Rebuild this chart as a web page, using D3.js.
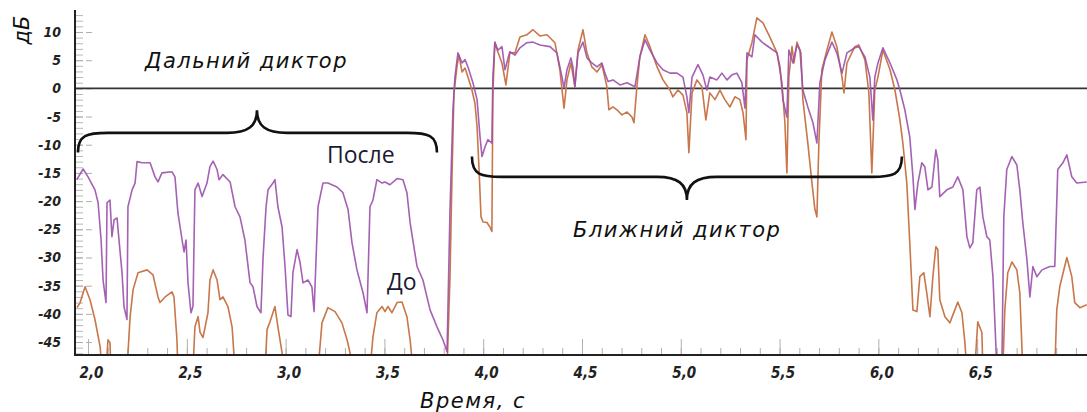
<!DOCTYPE html>
<html lang="ru">
<head>
<meta charset="UTF-8">
<title>Дальний и ближний диктор</title>
<script src="https://cdn.jsdelivr.net/npm/d3@7/dist/d3.min.js"></script>
<style>
  body { margin: 0; background: #fff; }
  svg { display: block; }
</style>
</head>
<body>
<script>
// canvas
var w = 1087;
var h = 412;

// y ticks (dB) and x ticks (seconds)
var yMajor = [-45, -40, -35, -30, -25, -20, -15, -10, -5, 0, 5, 10];
var xMajor = [2.0, 2.5, 3.0, 3.5, 4.0, 4.5, 5.0, 5.5, 6.0, 6.5];

// "После" (after processing) - [time s, level dB]
var afterPts = [
  [1.943,-16.2],[1.975,-14.3],[2.000,-15.7],[2.035,-18.0],[2.051,-20.3],[2.066,-26.9],[2.076,-34.0],[2.091,-38.0],
  [2.096,-20.3],[2.111,-19.8],[2.121,-26.3],[2.132,-23.3],[2.147,-23.0],[2.152,-25.1],[2.172,-32.7],[2.182,-38.7],
  [2.197,-41.0],[2.202,-21.0],[2.223,-18.0],[2.238,-16.8],[2.248,-13.0],[2.273,-13.2],[2.314,-13.2],[2.339,-15.7],
  [2.354,-16.6],[2.374,-15.0],[2.425,-14.8],[2.440,-15.7],[2.455,-22.1],[2.476,-26.9],[2.486,-29.0],[2.496,-26.9],
  [2.506,-34.5],[2.521,-39.8],[2.531,-38.7],[2.541,-18.0],[2.557,-16.8],[2.577,-19.2],[2.602,-16.8],[2.617,-13.9],
  [2.633,-12.9],[2.653,-14.4],[2.663,-16.2],[2.683,-15.3],[2.719,-16.6],[2.744,-21.0],[2.769,-22.8],[2.794,-26.9],
  [2.820,-34.5],[2.835,-35.2],[2.855,-38.7],[2.875,-39.8],[2.886,-29.9],[2.901,-21.0],[2.911,-18.0],[2.936,-16.8],
  [2.946,-16.2],[2.961,-21.0],[2.982,-24.6],[2.997,-31.6],[3.012,-40.2],[3.027,-40.5],[3.037,-32.7],[3.058,-28.6],
  [3.073,-30.9],[3.088,-34.5],[3.113,-34.0],[3.133,-35.2],[3.144,-39.6],[3.164,-21.0],[3.189,-16.8],[3.214,-16.8],
  [3.260,-17.5],[3.290,-18.5],[3.316,-21.5],[3.336,-27.4],[3.361,-32.2],[3.392,-36.3],[3.412,-39.8],[3.427,-21.0],
  [3.442,-19.8],[3.462,-16.2],[3.488,-16.8],[3.503,-16.6],[3.528,-17.1],[3.564,-16.0],[3.594,-16.2],[3.614,-18.5],
  [3.630,-23.8],[3.665,-31.6],[3.695,-34.0],[3.731,-39.3],[3.766,-42.3],[3.796,-44.6],[3.817,-46.7],[3.832,-21.5],
  [3.847,-3.8],[3.857,2.0],[3.872,6.3],[3.893,4.5],[3.908,5.1],[3.923,3.8],[3.948,1.0],[3.969,-2.0],
  [3.984,-8.6],[3.994,-12.1],[4.009,-10.4],[4.024,-9.1],[4.044,-9.7],[4.049,2.0],[4.059,8.2],[4.074,6.8],
  [4.095,7.4],[4.110,3.3],[4.135,6.5],[4.161,5.9],[4.186,7.2],[4.221,8.1],[4.252,8.2],[4.287,7.7],
  [4.338,7.4],[4.373,6.3],[4.399,2.0],[4.409,0.1],[4.424,3.3],[4.444,5.4],[4.454,3.8],[4.464,0.3],
  [4.480,6.3],[4.505,8.2],[4.525,5.4],[4.550,4.5],[4.576,3.8],[4.601,4.5],[4.616,2.7],[4.632,1.2],
  [4.657,1.5],[4.692,0.6],[4.728,1.0],[4.768,0.3],[4.793,5.6],[4.819,8.6],[4.844,6.8],[4.880,4.5],
  [4.910,3.3],[4.945,2.7],[4.981,2.7],[5.011,2.0],[5.031,-1.5],[5.041,-4.3],[5.057,2.0],[5.087,4.2],
  [5.112,2.4],[5.132,-0.3],[5.147,2.0],[5.183,1.5],[5.208,2.7],[5.234,1.5],[5.259,2.4],[5.284,2.7],
  [5.309,1.0],[5.325,-3.5],[5.335,6.3],[5.360,5.6],[5.375,9.5],[5.411,8.2],[5.451,7.2],[5.487,6.3],
  [5.502,3.8],[5.517,-2.0],[5.537,-5.1],[5.547,6.8],[5.568,4.5],[5.588,7.7],[5.603,6.8],[5.618,-0.3],
  [5.643,-3.3],[5.669,-6.1],[5.689,-9.7],[5.704,1.0],[5.730,5.1],[5.765,8.2],[5.790,6.3],[5.816,2.7],
  [5.841,6.3],[5.881,7.2],[5.901,7.4],[5.932,5.6],[5.957,2.0],[5.972,-5.6],[5.982,2.0],[5.998,4.5],
  [6.023,7.2],[6.059,4.5],[6.094,1.5],[6.109,-0.3],[6.134,-3.8],[6.159,-8.6],[6.175,-15.7],[6.185,-21.5],
  [6.200,-16.8],[6.220,-13.2],[6.235,-13.9],[6.251,-18.0],[6.271,-17.5],[6.291,-10.9],[6.301,-12.7],[6.311,-19.2],
  [6.347,-18.0],[6.377,-17.5],[6.402,-15.7],[6.428,-18.0],[6.448,-26.3],[6.463,-28.3],[6.478,-27.4],[6.498,-18.0],
  [6.514,-17.5],[6.529,-22.8],[6.549,-26.3],[6.564,-26.9],[6.580,-33.4],[6.600,-50],[6.625,-50],[6.635,-22.8],
  [6.650,-14.4],[6.676,-12.1],[6.701,-13.6],[6.716,-18.0],[6.731,-23.8],[6.752,-30.4],[6.767,-37.0],[6.782,-31.6],
  [6.802,-33.4],[6.828,-32.2],[6.868,-31.6],[6.893,-31.6],[6.908,-14.4],[6.934,-13.2],[6.954,-11.8],[6.979,-15.7],
  [7.004,-16.8],[7.055,-16.6]
];

// "До" (before processing) - [time s, level dB]
var beforePts = [
  [1.944,-38.9],[1.960,-38.0],[1.985,-35.2],[2.010,-37.5],[2.035,-41.0],[2.061,-45.8],[2.071,-50],[2.091,-50],
  [2.101,-44.6],[2.111,-45.1],[2.116,-50],[2.197,-50],[2.213,-40.5],[2.228,-35.7],[2.253,-32.7],[2.299,-32.2],
  [2.329,-33.1],[2.354,-37.0],[2.364,-38.0],[2.390,-37.0],[2.425,-36.1],[2.435,-37.0],[2.450,-44.6],[2.455,-50],
  [2.531,-50],[2.541,-42.3],[2.557,-40.5],[2.567,-43.3],[2.582,-44.2],[2.607,-39.8],[2.617,-34.0],[2.633,-32.2],
  [2.653,-34.0],[2.668,-37.5],[2.683,-37.0],[2.708,-38.7],[2.729,-42.3],[2.744,-50],[2.896,-50],[2.906,-42.8],
  [2.921,-41.4],[2.946,-38.7],[2.961,-42.3],[2.982,-46.9],[2.987,-50],[3.164,-50],[3.184,-41.6],[3.214,-38.9],
  [3.250,-39.6],[3.285,-41.6],[3.311,-44.6],[3.326,-46.9],[3.336,-50],[3.427,-50],[3.442,-44.1],[3.462,-39.8],
  [3.488,-38.7],[3.503,-39.6],[3.518,-38.7],[3.538,-39.8],[3.564,-38.0],[3.589,-37.9],[3.614,-40.5],[3.630,-44.6],
  [3.645,-50],[3.817,-50],[3.832,-33.4],[3.842,-15.7],[3.852,-0.8],[3.867,3.8],[3.877,5.9],[3.893,2.9],
  [3.908,3.6],[3.923,2.0],[3.943,-0.3],[3.958,-2.6],[3.969,-6.8],[3.979,-14.4],[3.989,-22.8],[3.999,-23.7],
  [4.019,-23.8],[4.034,-24.6],[4.044,-25.4],[4.049,-0.8],[4.059,8.1],[4.074,6.5],[4.095,4.5],[4.115,0.6],
  [4.135,6.3],[4.161,6.3],[4.186,9.1],[4.221,9.5],[4.252,10.4],[4.287,9.3],[4.323,9.5],[4.363,8.1],
  [4.388,3.3],[4.409,-3.5],[4.424,1.5],[4.444,4.5],[4.464,0.3],[4.480,6.8],[4.505,10.4],[4.525,6.3],
  [4.550,3.8],[4.576,2.9],[4.601,4.2],[4.626,0.3],[4.636,-3.8],[4.657,-3.3],[4.677,-3.8],[4.702,-4.7],
  [4.728,-4.2],[4.753,-5.1],[4.763,-6.1],[4.778,0.3],[4.793,5.6],[4.819,9.5],[4.844,7.4],[4.880,3.8],
  [4.910,1.5],[4.945,-0.3],[4.960,-1.5],[4.986,-0.3],[5.011,-1.2],[5.031,-4.3],[5.041,-11.4],[5.057,-0.8],
  [5.082,1.5],[5.107,0.3],[5.127,-5.6],[5.147,-0.8],[5.173,-2.0],[5.198,-0.3],[5.223,-2.0],[5.249,-3.3],
  [5.274,-1.5],[5.299,-2.0],[5.315,-4.3],[5.330,-9.1],[5.335,5.1],[5.360,8.1],[5.385,12.5],[5.416,11.6],
  [5.451,9.1],[5.487,6.3],[5.512,1.0],[5.527,-6.1],[5.537,-15.0],[5.547,2.0],[5.563,7.4],[5.573,4.5],
  [5.588,8.2],[5.608,6.3],[5.618,-2.0],[5.643,-9.7],[5.664,-16.8],[5.679,-21.5],[5.689,-22.8],[5.699,-9.7],
  [5.714,3.3],[5.740,6.8],[5.765,10.0],[5.790,7.4],[5.816,2.0],[5.826,-0.8],[5.841,4.5],[5.881,7.4],
  [5.901,7.7],[5.932,5.1],[5.952,-0.8],[5.967,-15.0],[5.982,-0.3],[5.998,2.0],[6.023,6.8],[6.059,3.3],
  [6.084,-0.3],[6.109,-5.6],[6.124,-9.7],[6.144,-16.8],[6.159,-27.4],[6.175,-39.3],[6.195,-39.6],[6.210,-33.4],
  [6.230,-32.7],[6.245,-36.3],[6.261,-40.5],[6.276,-33.4],[6.291,-28.1],[6.301,-28.6],[6.311,-37.5],[6.337,-40.5],
  [6.362,-41.6],[6.387,-39.3],[6.402,-37.9],[6.423,-39.8],[6.438,-45.1],[6.448,-50],[6.488,-50],[6.503,-41.4],
  [6.524,-43.3],[6.529,-50],[6.630,-50],[6.640,-39.3],[6.655,-32.7],[6.676,-30.8],[6.701,-32.2],[6.716,-36.3],
  [6.731,-50],[6.893,-50],[6.903,-39.3],[6.918,-35.2],[6.954,-30.0],[6.979,-33.4],[6.994,-38.0],[7.020,-38.9],
  [7.055,-38.4]
];

// plot area (names avoid window.top etc.)
var plotL = 75, plotR = 1087, plotT = 10, plotB = 355;

var x = d3.scaleLinear().domain([1.934, 7.056]).range([plotL, plotR]);
var y = d3.scaleLinear().domain([-47.3, 13.9]).range([plotB, plotT]);

var svg = d3.select("body")
            .append("svg")
            .attr("width", w)
            .attr("height", h);

svg.append("rect").attr("width", w).attr("height", h).attr("fill", "#fff");

svg.append("defs").append("clipPath")
   .attr("id", "plot")
   .append("rect")
   .attr("x", plotL + 1).attr("y", plotT)
   .attr("width", plotR - plotL).attr("height", plotB - plotT - 1);

var tickFont = "'DejaVu Sans Condensed', 'DejaVu Sans', sans-serif";
var noteFont = "'DejaVu Sans', sans-serif";

// minor y ticks every 1 dB
svg.append("g")
   .attr("transform", "translate(" + plotL + ",0)")
   .call(d3.axisRight(y).tickValues(d3.range(-47, 14, 1)).tickSize(8).tickFormat(""))
   .call(function(g) {
       g.select(".domain").remove();
       g.selectAll("line").attr("stroke", "#b8b8b8");
   });

// major y dashes
svg.append("g")
   .attr("transform", "translate(" + plotL + ",0)")
   .call(d3.axisRight(y).tickValues(yMajor).tickSize(20).tickFormat(""))
   .call(function(g) {
       g.select(".domain").remove();
       g.selectAll("line").attr("stroke", "#b0b0b0").attr("stroke-dasharray", "8,3,6");
   });

// y labels
svg.append("g")
   .attr("transform", "translate(" + plotL + ",0)")
   .call(d3.axisLeft(y).tickValues(yMajor).tickSize(0).tickPadding(14)
         .tickFormat(function(d) { return d < 0 ? "-" + (-d) : d; }))
   .call(function(g) {
       g.select(".domain").remove();
       g.selectAll("text")
        .attr("font-family", tickFont)
        .attr("font-style", "italic")
        .attr("font-weight", "bold")
        .attr("font-size", "14px")
        .attr("fill", "#222");
   });

// minor x ticks every 0.1 s
svg.append("g")
   .attr("transform", "translate(0," + plotB + ")")
   .call(d3.axisTop(x).tickValues(d3.range(20, 71, 1).map(function(d) { return d / 10; }))
         .tickSize(7).tickFormat(""))
   .call(function(g) {
       g.select(".domain").remove();
       g.selectAll("line").attr("stroke", "#b0b0b0");
   });

// major x ticks
svg.append("g")
   .attr("transform", "translate(0," + plotB + ")")
   .call(d3.axisTop(x).tickValues(xMajor).tickSize(16).tickFormat(""))
   .call(function(g) {
       g.select(".domain").remove();
       g.selectAll("line").attr("stroke", "#b0b0b0");
   });

// x labels
svg.append("g")
   .attr("transform", "translate(3," + plotB + ")")
   .call(d3.axisBottom(x).tickValues(xMajor).tickSize(0).tickPadding(12)
         .tickFormat(function(d) { return d.toFixed(1).replace(".", ","); }))
   .call(function(g) {
       g.select(".domain").remove();
       g.selectAll("text")
        .attr("font-family", tickFont)
        .attr("font-style", "italic")
        .attr("font-weight", "bold")
        .attr("font-size", "15px")
        .attr("fill", "#222");
   });

// zero line
svg.append("line")
   .attr("x1", plotL).attr("x2", plotR)
   .attr("y1", y(0)).attr("y2", y(0))
   .attr("stroke", "#333").attr("stroke-width", 1.8);

// curves
var line = d3.line()
             .x(function(d) { return x(d[0]); })
             .y(function(d) { return y(d[1]); });

var plot = svg.append("g").attr("clip-path", "url(#plot)");

plot.append("path")
    .datum(beforePts)
    .attr("d", line)
    .attr("fill", "none")
    .attr("stroke", "#c8774a")
    .attr("stroke-width", 1.6)
    .attr("stroke-linejoin", "round");

plot.append("path")
    .datum(afterPts)
    .attr("d", line)
    .attr("fill", "none")
    .attr("stroke", "#9b50ab")
    .attr("stroke-opacity", 0.9)
    .attr("stroke-width", 1.6)
    .attr("stroke-linejoin", "round");

// axes lines
svg.append("line")
   .attr("x1", plotL).attr("x2", plotL).attr("y1", plotT).attr("y2", plotB + 1)
   .attr("stroke", "#222").attr("stroke-width", 2);
svg.append("line")
   .attr("x1", plotL).attr("x2", plotR).attr("y1", plotB).attr("y2", plotB)
   .attr("stroke", "#222").attr("stroke-width", 2);

// curly brace: from t0 to t1, ends at vEnd, bar at vBar, tip at vTip
function brace(t0, t1, tTip, vEnd, vBar, vTip) {
    var x0 = x(t0), x1 = x(t1), xt = x(tTip);
    var ye = y(vEnd), yb = y(vBar), yt = y(vTip);
    var r = 30;
    return "M" + x0 + "," + ye +
           "C" + x0 + "," + (yb + (ye - yb) * 0.1) + " " + (x0 + r * 0.3) + "," + yb + " " + (x0 + r) + "," + yb +
           "L" + (xt - r) + "," + yb +
           "C" + (xt - r * 0.3) + "," + yb + " " + xt + "," + (yb + (yt - yb) * 0.3) + " " + xt + "," + yt +
           "C" + xt + "," + (yb + (yt - yb) * 0.3) + " " + (xt + r * 0.3) + "," + yb + " " + (xt + r) + "," + yb +
           "L" + (x1 - r) + "," + yb +
           "C" + (x1 - r * 0.3) + "," + yb + " " + x1 + "," + (yb + (ye - yb) * 0.1) + " " + x1 + "," + ye;
}

svg.append("path")
   .attr("d", brace(1.949, 3.766, 2.855, -11.4, -7.9, -3.9))
   .attr("fill", "none").attr("stroke", "#111").attr("stroke-width", 2.6);

svg.append("path")
   .attr("d", brace(3.943, 6.119, 5.031, -12.1, -15.7, -19.8))
   .attr("fill", "none").attr("stroke", "#111").attr("stroke-width", 2.6);

// annotations (pixel positions)
function note(txt, px, py, size, opts) {
    opts = opts || {};
    svg.append("text")
       .attr("x", px).attr("y", py)
       .attr("font-family", opts.family || noteFont)
       .attr("font-style", opts.italic === false ? "normal" : "italic")
       .attr("font-weight", opts.weight || 300)
       .attr("font-size", size + "px")
       .attr("letter-spacing", (opts.spacing || 0) + "px")
       .attr("text-anchor", opts.anchor || "start")
       .attr("fill", opts.fill || "#111")
       .text(txt);
}

note("Дальний диктор", 145, 68, 21, { spacing: 1.5 });
note("Ближний диктор", 573, 237, 21, { spacing: 1.5 });
note("Время, с", 420, 408, 21, { spacing: 1.5 });
note("После", 327, 163, 23, { italic: false, weight: 400, family: "'Open Sans', sans-serif", fill: "#1a1a30" });
note("До", 387, 290, 23, { italic: false, weight: 400, family: "'Open Sans', sans-serif", fill: "#1a1a30" });

// dB label
svg.append("text")
   .attr("transform", "translate(29,30) rotate(-90)")
   .attr("text-anchor", "middle")
   .attr("font-family", noteFont)
   .attr("font-style", "italic")
   .attr("font-weight", 300)
   .attr("font-size", "21px")
   .attr("fill", "#111")
   .text("дБ");
</script>
</body>
</html>
